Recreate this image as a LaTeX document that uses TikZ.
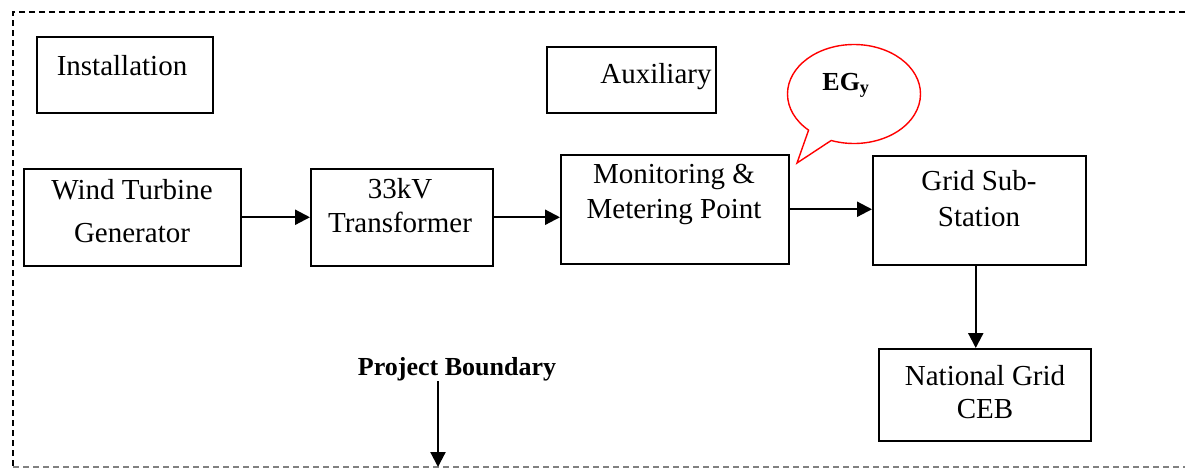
\documentclass[tikz,border=0pt]{standalone}
\usepackage{fontspec}
\setmainfont{LiberationSerif}[Extension=.ttf,UprightFont=*-Regular,BoldFont=*-Bold,ItalicFont=*-Italic,BoldItalicFont=*-BoldItalic]
\usetikzlibrary{arrows.meta,shapes.callouts,calc}
\begin{document}
\begin{tikzpicture}[x=1pt,y=-1pt,
  box/.style={draw,line width=1.5pt,inner sep=0pt,anchor=north west},
  txt/.style={anchor=base,inner sep=0pt,font=\fontsize{29}{34}\selectfont},
  arr/.style={line width=2.2pt,-{Triangle[length=15pt,width=15pt]}},
  bound/.style={line width=1.1pt,dash pattern=on 6pt off 4pt}]
\useasboundingbox (0,0) rectangle (1185,472);
% project boundary
\coordinate (bTR) at (1185,12);
\coordinate (bTL) at (13,12);
\coordinate (bBL) at (13,467);
\coordinate (bBR) at (1185,467);
\draw[bound] (bTR) -- (bTL) -- (bBL);
\draw[bound,gray] (bBL) -- (bBR);
% boxes
\node[box,minimum width=176pt,minimum height=76pt] (inst) at (36,36) {};
\node[box,minimum width=169pt,minimum height=66pt] (aux) at (546,46) {};
\node[box,minimum width=217pt,minimum height=97pt] (wtg) at (23,168) {};
\node[box,minimum width=182pt,minimum height=97pt] (tr) at (310,168) {};
\node[box,minimum width=228pt,minimum height=109pt] (mon) at (560,154) {};
\node[box,minimum width=213pt,minimum height=109pt] (grid) at (872,155) {};
\node[box,minimum width=212pt,minimum height=92pt] (nat) at (878,348) {};
% texts
\node[txt] (instT) at (122,75) {Installation};
\node[txt] (auxT) at (656,83) {Auxiliary};
\node[txt] (wtgA) at (132,199) {Wind Turbine};
\node[txt] (wtgB) at (132,242) {Generator};
\node[txt] (trA) at (400,198) {33kV};
\node[txt] (trB) at (400,232) {Transformer};
\node[txt] (monA) at (674,183) {Monitoring \&};
\node[txt] (monB) at (674,218) {Metering Point};
\node[txt] (gridA) at (979,190) {Grid Sub-};
\node[txt] (gridB) at (979,226) {Station};
\node[txt] (natA) at (985,385) {National Grid};
\node[txt] (natB) at (985,418) {CEB};
% arrows
\draw[arr] (wtg.east) -- (tr.west);
\draw[arr] (tr.east) -- (tr.east -| mon.west);
\draw[arr] (mon.east) -- (mon.east -| grid.west);
\draw[arr] ([xshift=-3.5pt]grid.south) -- ([xshift=-3.5pt]grid.south |- nat.north);
% project boundary label
\node[anchor=base,inner sep=0pt,font=\fontsize{26}{30}\selectfont\bfseries] (pb) at (457,375) {Project Boundary};
\coordinate (pbEnd) at (438,467);
\draw[arr] (pbEnd |- 0,381) -- (pbEnd);
% callout
\coordinate (tip) at (797,163);
\node[ellipse callout,draw=red,line width=1.4pt,minimum width=133pt,minimum height=99pt,inner sep=0pt,
  callout absolute pointer=(tip),callout pointer arc=23] (eg) at (854,94) {};
\node[anchor=base,inner sep=0pt,font=\fontsize{26}{30}\selectfont\bfseries] (egT) at (846,90) {EG\textsubscript{y}};
\end{tikzpicture}
\end{document}
